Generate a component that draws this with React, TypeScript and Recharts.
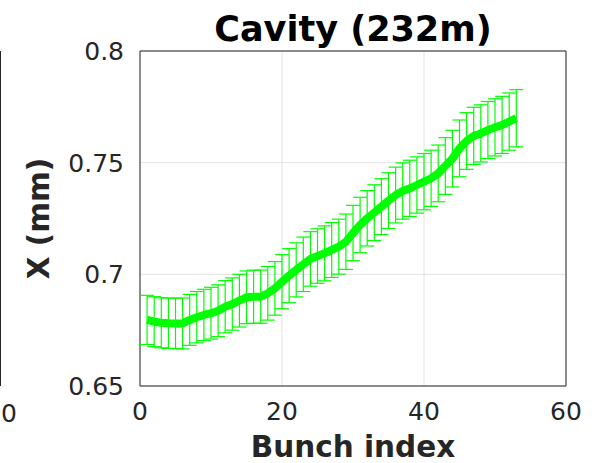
import React from "react";
import {
  ComposedChart,
  Line,
  ErrorBar,
  XAxis,
  YAxis,
  CartesianGrid,
  ReferenceArea,
  Label,
} from "recharts";

// Mean horizontal position per bunch (mm) and its spread
const bunchIndex: number[] = Array.from({ length: 53 }, (_, i) => i + 1);

const meanX: number[] = [
  0.6796, 0.6788, 0.6783, 0.6781, 0.678, 0.678, 0.6796, 0.6808, 0.6818, 0.6826,
  0.6837, 0.6855, 0.6867, 0.6882, 0.6897, 0.69, 0.69, 0.6915, 0.6937, 0.6967,
  0.6994, 0.702, 0.7045, 0.7069, 0.7082, 0.7094, 0.7109, 0.7124, 0.7146, 0.7185,
  0.7221, 0.7251, 0.7276, 0.7303, 0.733, 0.7355, 0.7373, 0.7385, 0.74, 0.7415,
  0.743, 0.7452, 0.7485, 0.7518, 0.7564, 0.7597, 0.762, 0.7631, 0.7646, 0.7658,
  0.7669, 0.7684, 0.7699,
];

const errX: number[] = [
  0.011, 0.0112, 0.0112, 0.0113, 0.0113, 0.0114, 0.0114, 0.0115, 0.0115, 0.0116,
  0.0116, 0.0117, 0.0117, 0.0118, 0.0118, 0.0119, 0.0119, 0.012, 0.012, 0.0121,
  0.0121, 0.0121, 0.0122, 0.0122, 0.0122, 0.0123, 0.0123, 0.0123, 0.0124, 0.0124,
  0.0124, 0.0124, 0.0125, 0.0125, 0.0125, 0.0125, 0.0126, 0.0126, 0.0126, 0.0126,
  0.0126, 0.0127, 0.0127, 0.0127, 0.0127, 0.0127, 0.0128, 0.0128, 0.0128, 0.0128,
  0.0128, 0.0128, 0.0128,
];

const xTicks: number[] = [0, 20, 40, 60];
const yTicks: number[] = [0.65, 0.7, 0.75, 0.8];

const titleText = "Cavity (232m)";
const xLabel = "Bunch index";
const yLabel = "X (mm)";
const neighbourTick = "0";

const data = bunchIndex.map((b, i) => ({ bunch: b, x: meanX[i], err: errX[i] }));

const FONT = "DejaVu Sans, sans-serif";
const AXIS_COLOR = "#262626";
const GREEN = "#00ff00";

export default function App() {
  return (
    <div style={{ position: "absolute", left: 0, top: 0, width: 608, height: 463, background: "#fff", overflow: "hidden" }}>
      {/* edge of the neighbouring panel and the title */}
      <svg width={608} height={463} style={{ position: "absolute", left: 0, top: 0 }}>
        <line x1={0.5} y1={51} x2={0.5} y2={386} stroke={AXIS_COLOR} strokeWidth={1} />
        <text x={1} y={422} textAnchor="start" fontFamily={FONT} fontSize={25} fill={AXIS_COLOR}>
          {neighbourTick}
        </text>
        <text x={353} y={41} textAnchor="middle" fontFamily={FONT} fontSize={35} fontWeight="bold" fill="#000">
          {titleText}
        </text>
      </svg>
      <div style={{ position: "absolute", left: 0, top: 0 }}>
        <ComposedChart
          width={608}
          height={463}
          data={data}
          margin={{ top: 51, right: 42, bottom: 0, left: 80 }}
        >
          <CartesianGrid stroke="#e2e2e2" strokeWidth={1} />
          <XAxis
            dataKey="bunch"
            type="number"
            domain={[0, 60]}
            ticks={xTicks}
            allowDataOverflow
            height={77}
            axisLine={false}
            tickLine={false}
            tick={{ fontFamily: FONT, fontSize: 25, fill: AXIS_COLOR }}
            tickMargin={10}
          >
            <Label
              value={xLabel}
              position="insideBottom"
              offset={6}
              style={{ fontFamily: FONT, fontSize: 29.5, fontWeight: "bold", fill: AXIS_COLOR }}
            />
          </XAxis>
          <YAxis
            type="number"
            domain={[0.65, 0.8]}
            ticks={yTicks}
            allowDataOverflow
            width={60}
            axisLine={false}
            tickLine={false}
            tick={{ fontFamily: FONT, fontSize: 25, fill: AXIS_COLOR }}
            tickMargin={10}
          >
            <Label
              value={yLabel}
              angle={-90}
              position="left"
              offset={41}
              style={{ fontFamily: FONT, fontSize: 29.5, fontWeight: "bold", fill: AXIS_COLOR, textAnchor: "middle" }}
            />
          </YAxis>
          <ReferenceArea
            x1={0}
            x2={60}
            y1={0.65}
            y2={0.8}
            fill="none"
            stroke={AXIS_COLOR}
            strokeWidth={1}
            ifOverflow="visible"
          />
          <Line
            dataKey="x"
            stroke={GREEN}
            strokeWidth={8}
            dot={false}
            isAnimationActive={false}
            strokeLinejoin="round"
          >
            <ErrorBar dataKey="err" direction="y" stroke={GREEN} strokeWidth={1.2} width={7} isAnimationActive={false} />
          </Line>
        </ComposedChart>
      </div>
    </div>
  );
}
